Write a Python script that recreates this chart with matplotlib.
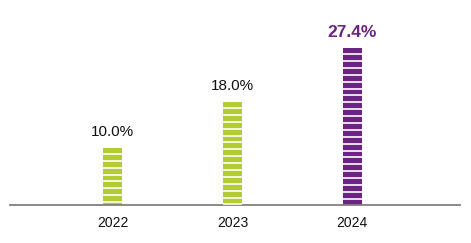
import matplotlib

matplotlib.use("Agg")
import matplotlib.pyplot as plt
import numpy as np

plt.rcParams["font.family"] = ["Liberation Sans", "DejaVu Sans"]

years = ["2022", "2023", "2024"]
shares = [10.0, 18.0, 27.4]
colors = ["#B3CC34", "#B3CC34", "#6C2484"]
label_colors = ["#111111", "#111111", "#6C2484"]
label_weights = ["normal", "normal", "bold"]
label_sizes = [11, 11, 12.5]

fig = plt.figure(figsize=(4.71, 2.43), dpi=100)
ax = fig.add_axes([10 / 471, 38 / 243, 450 / 471, 195 / 243])

x = np.arange(len(years))
width = 0.16
bars = ax.bar(x, shares, width=width, color=colors, zorder=2)

# white stripes across each bar
step = 1.2
for b, v in zip(bars, shares):
    ys = np.arange(v - step + 0.1, 0, -step)
    ax.hlines(ys, b.get_x(), b.get_x() + b.get_width(), color="white",
              linewidth=1.2, zorder=3)

for xi, v, c, w, fs in zip(x, shares, label_colors, label_weights, label_sizes):
    ax.annotate(f"{v:.1f}%", (xi, v), xytext=(0, 6), textcoords="offset points",
                ha="center", va="bottom", fontsize=fs, color=c, fontweight=w)

ax.set_xlim(-0.86, 2.9)
ax.set_ylim(0, 34)
ax.set_xticks(x)
ax.set_xticklabels(years, fontsize=10, color="#111111")
ax.tick_params(axis="x", length=0, pad=8)
ax.set_yticks([])
for s in ["top", "right", "left"]:
    ax.spines[s].set_visible(False)
ax.spines["bottom"].set_color("#808080")
ax.spines["bottom"].set_linewidth(1.3)

fig.savefig("out.png", dpi=100)
